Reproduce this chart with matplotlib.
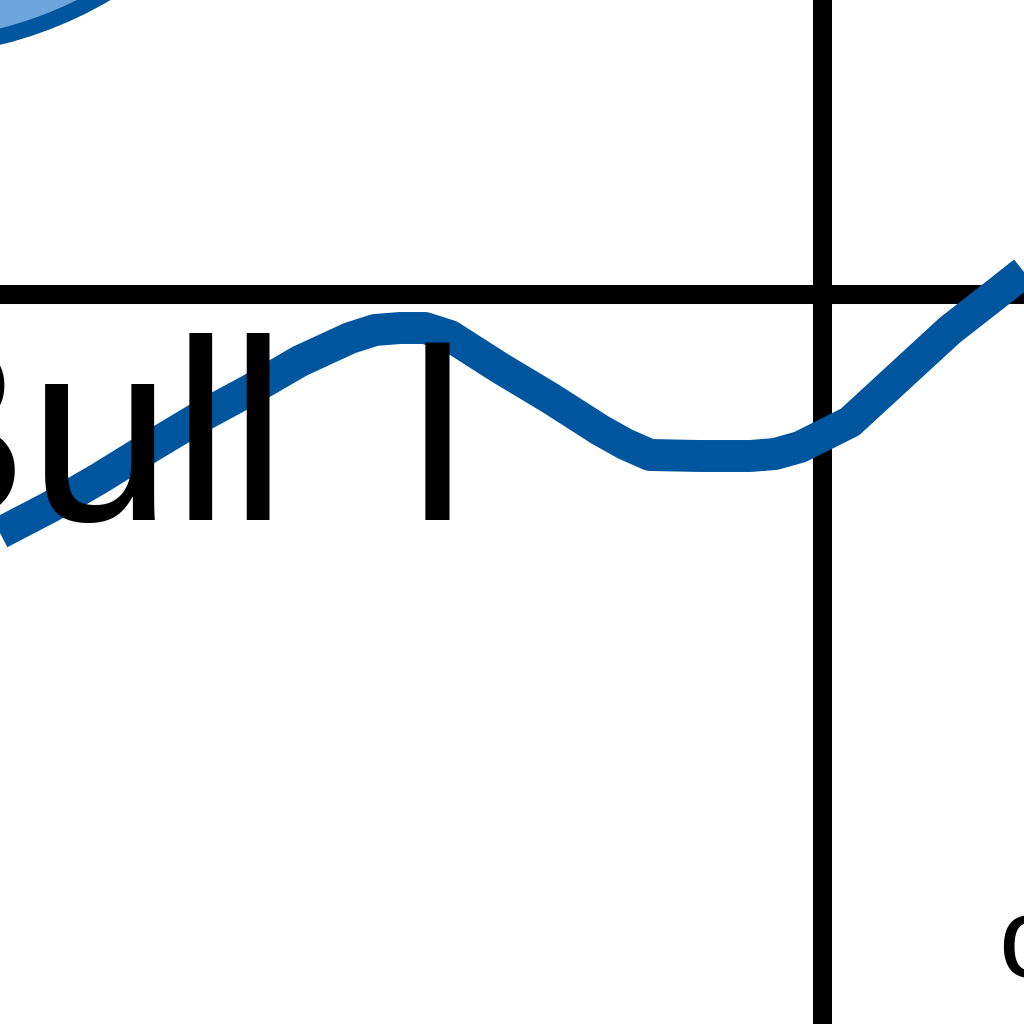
import matplotlib
matplotlib.use("Agg")
import matplotlib.pyplot as plt

# blue series (view is a close crop of a larger chart)
line_x = [0.0, 0.5, 1.0, 1.5, 2.0, 2.5, 3.0, 3.5, 3.75, 4.0, 4.25, 4.5, 4.75, 5.0,
          5.5, 6.0, 6.25, 6.5, 7.0, 7.5, 7.75, 8.0, 8.5, 9.0, 9.5, 10.0, 10.24]
line_y = [4.91, 5.17, 5.46, 5.77, 6.07, 6.34, 6.63, 6.86, 6.94, 6.96, 6.96, 6.88, 6.72, 6.56,
          6.26, 5.94, 5.80, 5.69, 5.68, 5.68, 5.70, 5.77, 6.02, 6.48, 6.94, 7.33, 7.52]

# big highlighted point, mostly outside the view
point_x = [-0.97]
point_y = [13.76]

# grid positions
grid_x = [8.22]
grid_y = [7.30]

# labels
label_text = "Bull \u2006I"
label_pos = (-1.44, 5.04)
small_text = "o"
small_pos = (9.98, 0.47)


def main():
    fig = plt.figure(figsize=(10.24, 10.24), dpi=100)
    ax = fig.add_axes([0, 0, 1, 1])
    ax.set_xlim(0, 10.24)
    ax.set_ylim(0, 10.24)
    ax.axis("off")

    for gx in grid_x:
        ax.axvline(gx, color="black", lw=13.7, zorder=1)
    for gy in grid_y:
        ax.axhline(gy, color="black", lw=13.7, zorder=1)

    ax.plot(line_x, line_y, color="#00559F", lw=23,
            solid_joinstyle="round", solid_capstyle="butt", zorder=2)

    ax.scatter(point_x, point_y, s=576 ** 2, facecolor="#6CA6DD",
               edgecolor="#00559F", linewidths=11.5, zorder=2)

    ax.text(label_pos[0], label_pos[1], label_text, fontsize=186,
            family=["Liberation Sans", "DejaVu Sans"], color="black",
            ha="left", va="baseline", zorder=3)
    ax.text(small_pos[0], small_pos[1], small_text, fontsize=83,
            family=["Liberation Sans", "DejaVu Sans"], color="black",
            ha="left", va="baseline", zorder=3)

    fig.savefig("out.png", dpi=100)


main()
